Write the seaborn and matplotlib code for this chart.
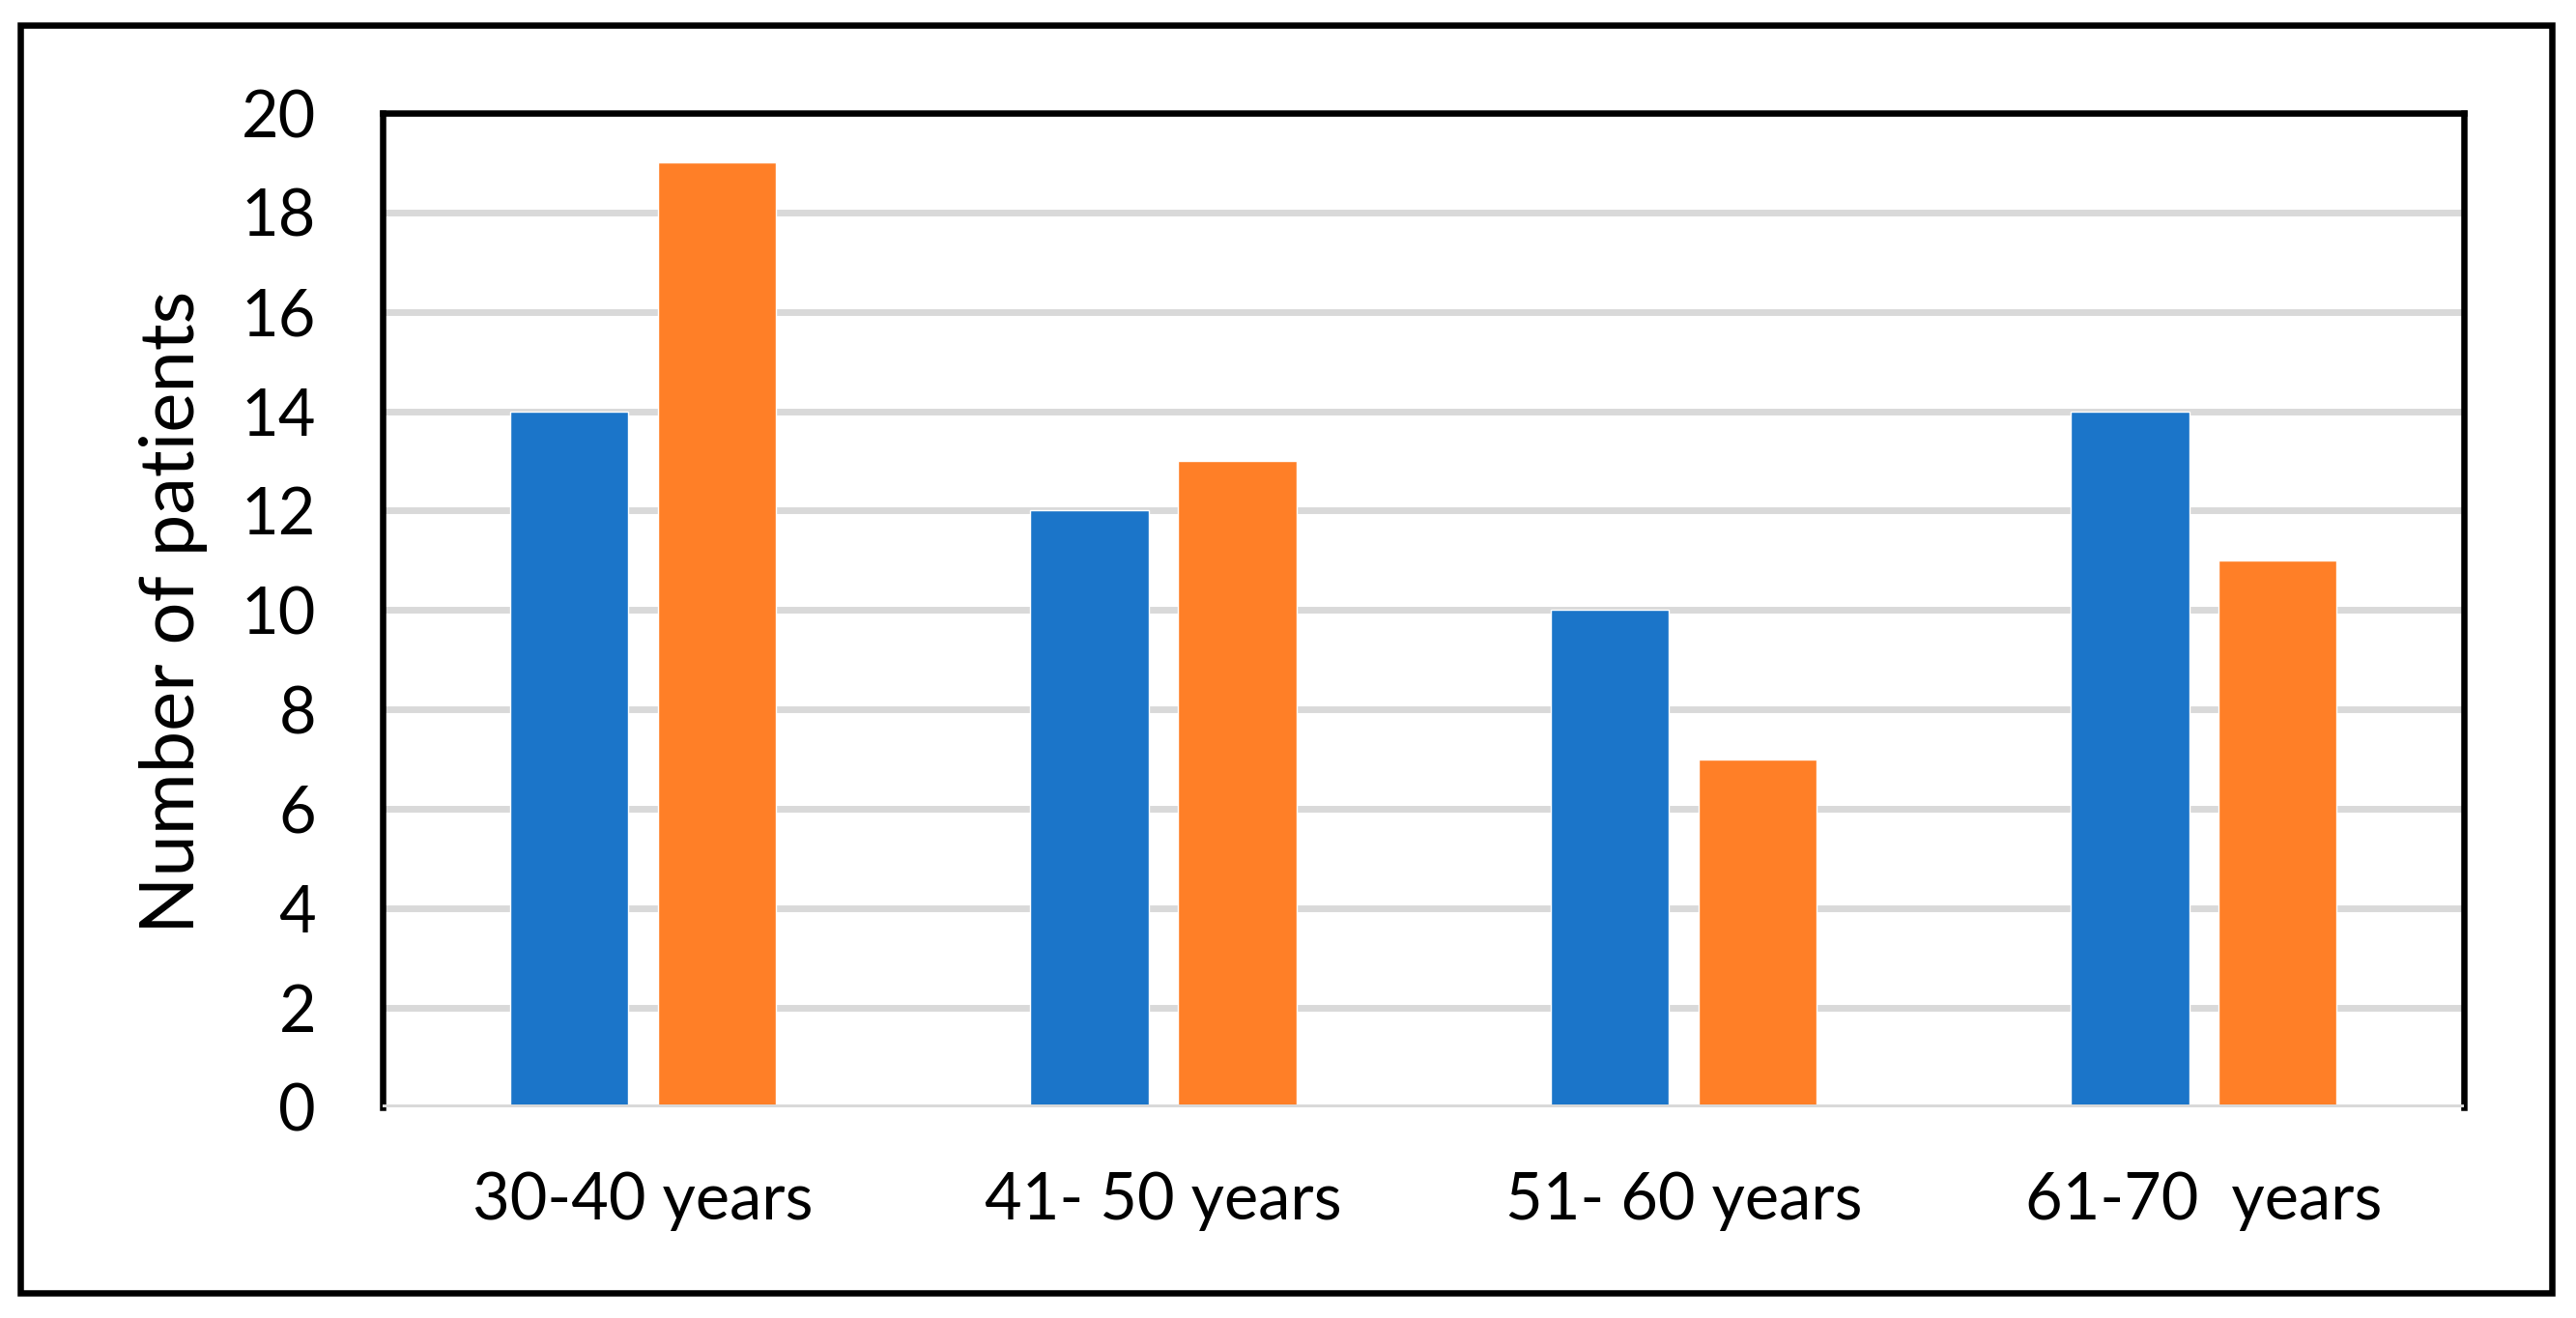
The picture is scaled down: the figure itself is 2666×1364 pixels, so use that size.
import pandas as pd
import matplotlib.pyplot as plt
import seaborn as sns
from matplotlib.patches import Rectangle

# Data
age_groups = ['30-40 years', '41- 50 years', '51- 60 years', '61-70  years']
series_names = ['Series 1', 'Series 2']
series_1 = [14, 12, 10, 14]
series_2 = [19, 13, 7, 11]
y_ticks = [0, 2, 4, 6, 8, 10, 12, 14, 16, 18, 20]

data = pd.DataFrame({
    'age': age_groups * 2,
    'series': [series_names[0]] * 4 + [series_names[1]] * 4,
    'patients': series_1 + series_2,
})

sns.set_style('white')
plt.rcParams['font.family'] = ['Lato', 'DejaVu Sans']

fig = plt.figure(figsize=(26.66, 13.64), dpi=100)
ax = fig.add_axes([0.14872, 0.16019, 0.80777, 0.75403])

sns.barplot(data=data, x='age', y='patients', hue='series', order=age_groups,
            palette=['#1B75C9', '#FF7F27'], width=0.568, gap=0.2,
            saturation=1, legend=False, ax=ax, zorder=2)

ax.set_ylim(0, 20)
ax.set_xlim(-0.5, 3.5)
ax.set_yticks(y_ticks)
ax.yaxis.grid(True, color='#D9D9D9', linewidth=5, zorder=0)
ax.set_axisbelow(True)
ax.axhline(0, color='#D9D9D9', linewidth=5, zorder=3)

for side in ['left', 'top', 'right']:
    ax.spines[side].set_color('black')
    ax.spines[side].set_linewidth(4.7)
ax.spines['bottom'].set_visible(False)

ax.tick_params(axis='both', length=0, labelsize=48, colors='black')
ax.tick_params(axis='y', pad=50)
ax.tick_params(axis='x', pad=48)
ax.set_xlabel('')
ax.set_ylabel('')
fig.text(180 / 2666, 1 - 633 / 1364, 'Number of patients', rotation=90,
         ha='center', va='center', fontsize=56, color='black')

# outer frame around the whole chart
fig.patches.append(Rectangle((20.5 / 2666, 1 - 1338 / 1364), 2620 / 2666, 1312 / 1364,
                             transform=fig.transFigure, fill=False,
                             edgecolor='black', linewidth=4.7))

plt.savefig('out.png', dpi=100)
